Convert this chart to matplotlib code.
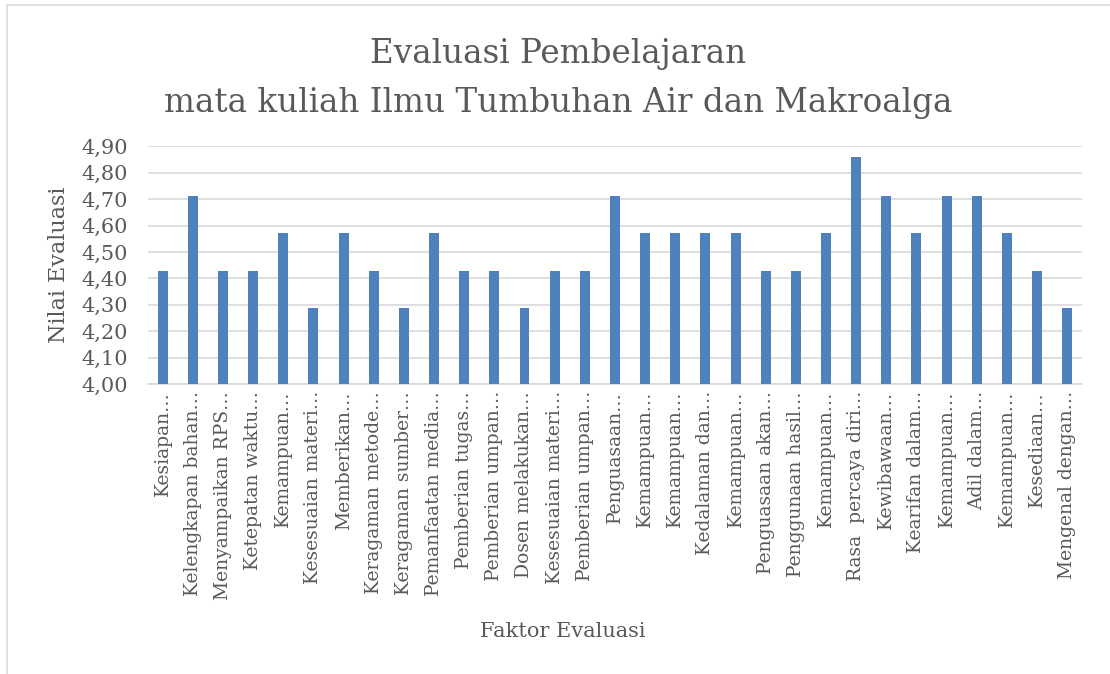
import matplotlib.pyplot as plt
from matplotlib.patches import Rectangle

# Data
faktor = [
    "Kesiapan…", "Kelengkapan bahan…", "Menyampaikan RPS…", "Ketepatan waktu…",
    "Kemampuan…", "Kesesuaian materi…", "Memberikan…", "Keragaman metode…",
    "Keragaman sumber…", "Pemanfaatan media…", "Pemberian tugas…", "Pemberian umpan…",
    "Dosen melakukan…", "Kesesuaian materi…", "Pemberian umpan…", "Penguasaan…",
    "Kemampuan…", "Kemampuan…", "Kedalaman dan…", "Kemampuan…",
    "Penguasaan akan…", "Penggunaan hasil…", "Kemampuan…", "Rasa  percaya diri…",
    "Kewibawaan…", "Kearifan dalam…", "Kemampuan…", "Adil dalam…",
    "Kemampuan…", "Kesediaan…", "Mengenal dengan…",
]
nilai = [
    4.43, 4.71, 4.43, 4.43, 4.57, 4.29, 4.57, 4.43, 4.29, 4.57,
    4.43, 4.43, 4.29, 4.43, 4.43, 4.71, 4.57, 4.57, 4.57, 4.57,
    4.43, 4.43, 4.57, 4.86, 4.71, 4.57, 4.71, 4.71, 4.57, 4.43, 4.29,
]
yticks = [4.0, 4.1, 4.2, 4.3, 4.4, 4.5, 4.6, 4.7, 4.8, 4.9]

grey = "#595959"
plt.rcParams['font.family'] = ['DejaVu Serif']

fig = plt.figure(figsize=(11.1, 6.74), dpi=100)
ax = fig.add_axes([0.133, 0.430, 0.842, 0.353])

# chart border
fig.patches.append(Rectangle((0.006, -0.05), 1.2, 1.043, transform=fig.transFigure,
                             fill=False, edgecolor="#D9D9D9", linewidth=1.2))

x = list(range(len(faktor)))
ax.bar(x, nilai, width=0.33, color="#4F81BD", zorder=3)

ax.set_xlim(-0.5, len(faktor) - 0.5)
ax.set_ylim(4.0, 4.9)
ax.set_yticks(yticks)
ax.set_yticklabels([f"{v:.2f}".replace('.', ',') for v in yticks], fontsize=15, color=grey)
ax.set_xticks(x)
ax.set_xticklabels(faktor, rotation=90, fontsize=13.5, color=grey)
ax.tick_params(axis='y', length=0, pad=14)
ax.tick_params(axis='x', length=0, pad=5)
ax.grid(axis='y', color="#D9D9D9", linewidth=1.2, zorder=0)
for s in ['top', 'right', 'left']:
    ax.spines[s].set_visible(False)
ax.spines['bottom'].set_color("#D9D9D9")
ax.spines['bottom'].set_linewidth(1.2)

ax.set_ylabel("Nilai Evaluasi", fontsize=16, color=grey, labelpad=8)
fig.text(0.507, 0.055, "Faktor Evaluasi", fontsize=15, color=grey, ha='center')
fig.text(0.503, 0.834, "Evaluasi Pembelajaran\nmata kuliah Ilmu Tumbuhan Air dan Makroalga",
         fontsize=23.5, color=grey, ha='center', va='baseline', linespacing=1.68)

fig.savefig("out.png", dpi=100)
